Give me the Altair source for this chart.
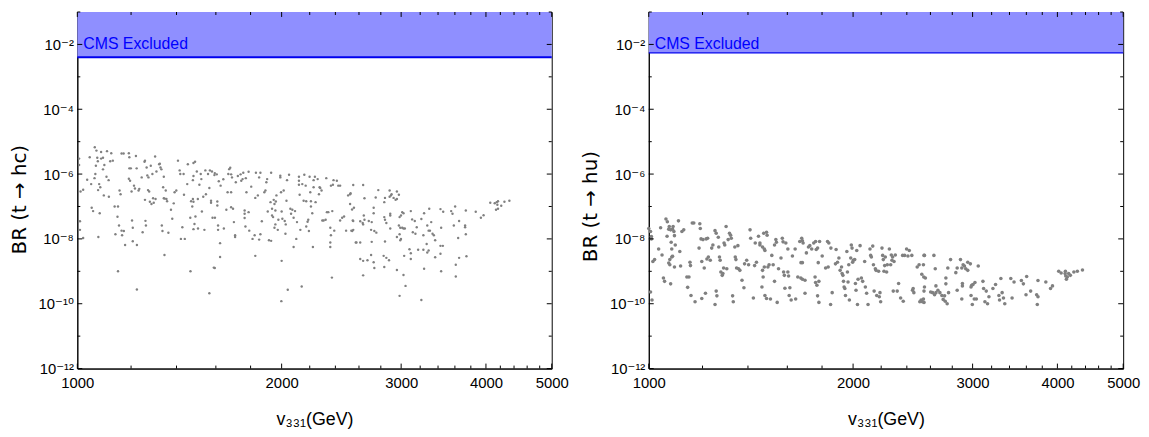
import altair as alt
import pandas as pd

# ---------------- data ----------------
# (v331 [GeV], BR(t -> hc))
HC_POINTS_1 = [
    (1006,3.0e-6),(1006,1.9e-6),(1011,2.9e-7),(1020,3.3e-7),(1009,3.5e-8),(1009,1.9e-8),(1020,1.07e-8),(1034,6.7e-7),
    (1043,3.3e-6),(1048,4.9e-7),(1050,9.1e-8),(1055,7.2e-8),(1061,6.7e-6),(1065,1.8e-6),(1067,5.3e-6),(1060,7.5e-7),
    (1063,1.0e-6),(1070,3.2e-6),(1072,2.5e-6),(1074,1.15e-8),(1073,3.2e-7),(1077,4.9e-7),(1079,6.2e-8),(1081,3.9e-7),
    (1084,4.8e-6),(1084,3.0e-6),(1091,3.2e-6),(1091,1.4e-6),(1094,2.2e-7),(1096,1.9e-6),(1106,5.1e-6),(1104,8.3e-7),
    (1112,6.5e-7),(1113,2.0e-7),(1118,2.5e-6),(1122,4.4e-6),(1128,2.6e-6),(1135,1.0e-7),(1138,1.4e-8),(1146,4.8e-8),
    (1148,1.0e-7),(1148,1.0e-9),(1152,2.6e-8),(1154,3.1e-7),(1158,2.4e-7),(1162,1.8e-8),(1164,1.3e-8),(1162,4.3e-6),
    (1170,4.3e-6),(1171,1.75e-8),(1176,6.5e-9),(1191,4.4e-6),(1193,3.3e-6),(1193,1.5e-6),(1199,1.5e-6),(1191,7.2e-7),
    (1196,6.2e-7),(1202,2.9e-7),(1204,3.7e-8),(1207,2.2e-8),(1207,8.5e-9),(1212,4.4e-7),(1216,3.6e-7),(1220,3.6e-6),
    (1223,1.5e-6),(1224,6.5e-9),(1224,2.75e-10),(1231,3.1e-7),(1234,3.5e-7),(1244,7.9e-7),(1248,1.6e-8),(1256,2.4e-6),
    (1258,2.6e-6),(1258,1.6e-7),(1260,3.6e-8),(1262,2.6e-8),(1265,1.6e-6),(1268,9.1e-7),(1271,3.2e-7),(1273,7.9e-7),
    (1276,2.9e-7),(1279,1.4e-7),(1283,1.8e-6),(1286,1.2e-7),(1290,1.0e-6),(1293,1.8e-7),(1296,1.3e-7),(1302,3.5e-6),
    (1304,1.7e-7),(1308,1.2e-6),(1320,2.0e-6),(1323,2.1e-6),(1326,1.6e-6),(1330,1.4e-6),(1332,2.6e-8),(1335,1.75e-8),
    (1338,3.9e-7),(1341,8.3e-7),(1341,1.8e-7),(1345,1.75e-7),(1344,3.2e-9),(1350,3.1e-7),(1353,1.7e-7),(1356,1.45e-7),
    (1362,1.55e-8),(1374,7.9e-8),(1380,4.2e-8),(1387,1.25e-7),(1391,2.75e-7),(1399,3.1e-7),(1407,2.6e-6),(1415,1.3e-6),
    (1418,1.0e-6),(1421,1.0e-8),(1428,2.3e-8),(1434,1.0e-6),(1436,2.3e-7),(1440,1.0e-8),(1452,4.9e-7),(1455,2.0e-6),
    (1467,4.5e-8),(1468,1.0e-9),(1471,1.45e-7),(1477,1.0e-7),(1480,6.5e-7),(1483,2.2e-6),(1491,2.4e-6),(1483,2.0e-8),
    (1488,2.9e-8),(1483,8.7e-7),(1483,1.4e-7),(1480,1.7e-7),(1493,4.9e-8),(1500,1.2e-6),(1506,2.1e-8),(1505,1.7e-7),
    (1513,4.7e-7),(1520,1.0e-6),(1523,7.0e-7),(1526,7.0e-8),(1539,1.9e-8),(1544,1.3e-6),(1533,2.0e-7),(1547,2.4e-7),
    (1558,1.0e-6),(1565,3.7e-7),(1568,1.3e-6),(1574,1.5e-7),(1574,1.3e-7),(1565,2.1e-10),(1579,1.2e-6),(1582,4.5e-8),
    (1589,1.3e-9),(1592,9.3e-7),
]
HC_POINTS_2 = [
    (1594,1.07e-6),(1605,9.8e-7),(1616,6.0e-7),(1626,4.4e-7),(1608,1.42e-7),(1608,1.07e-7),(1595,4.5e-8),(1612,2.6e-8),
    (1612,1.9e-8),(1623,7.4e-9),(1623,2.75e-9),(1594,1.26e-9),(1641,6.9e-7),(1644,2.1e-8),(1658,7.9e-8),(1665,2.75e-7),
    (1685,2.75e-7),(1669,1.0e-6),(1674,1.42e-6),(1680,1.56e-6),(1685,9.8e-7),(1690,7.9e-7),(1685,9.5e-8),(1696,8.5e-8),
    (1701,3.3e-8),(1708,1.3e-8),(1708,1.15e-8),(1712,5.6e-7),(1724,8.7e-7),(1740,9.8e-7),(1744,6.2e-7),(1752,7.0e-7),
    (1756,1.1e-6),(1764,7.5e-8),(1771,7.5e-7),(1764,4.4e-8),(1764,6.0e-8),(1769,2.4e-8),(1775,2.75e-7),(1788,1.18e-6),
    (1788,6.7e-8),(1792,1.8e-8),(1804,4.1e-7),(1812,1.0e-8),(1825,1.3e-8),(1829,3.0e-9),(1829,1.84e-7),(1833,1.1e-6),
    (1845,2.2e-7),(1853,7.9e-7),(1861,1.1e-6),(1861,1.4e-8),(1853,9.5e-9),(1870,3.5e-8),(1886,2.75e-7),(1893,3.1e-7),
    (1899,5.6e-7),(1904,7.0e-7),(1908,7.0e-8),(1916,9.1e-9),(1930,8.7e-9),(1930,1.1e-6),(1926,1.36e-7),(1936,8.5e-8),
    (1936,5.3e-8),(1943,4.7e-8),(1947,1.6e-7),(1952,1.2e-7),(1958,7.5e-8),(1961,1.42e-7),(1958,2.8e-8),(1952,2.2e-8),
    (1965,2.2e-7),(1974,1.9e-8),(1978,3.9e-8),(1991,8.9e-7),(1991,7.9e-7),(1996,2.75e-7),(2000,7.0e-8),(2000,2.1e-9),
    (1998,1.2e-10),(2005,4.2e-8),(2014,3.1e-7),(2021,3.55e-8),(2028,2.8e-8),(2026,1.45e-8),(2033,1.5e-7),(2037,6.5e-7),
    (2042,2.7e-10),(2051,9.5e-7),(2060,8.5e-8),(2065,6.0e-8),(2074,7.9e-8),(2083,4.5e-8),(2083,5.6e-9),(2093,7.2e-8),
    (2102,1.0e-8),(2107,3.3e-8),(2121,8.3e-7),(2121,6.2e-7),(2121,4.7e-7),(2126,2.3e-7),(2131,1.9e-8),(2141,3.4e-10),
    (2145,4.9e-7),(2155,1.5e-7),(2160,9.5e-7),(2170,4.4e-7),(2174,1.45e-7),(2174,2.4e-8),(2184,3.4e-8),(2189,3.9e-8),
    (2194,1.75e-8),(2199,8.3e-7),(2204,2.75e-7),(2209,1.45e-7),(2209,1.0e-7),(2219,6.2e-8),(2224,5.6e-9),(2229,6.5e-7),
    (2229,3.9e-7),(2239,8.3e-7),(2244,1.36e-7),(2260,7.0e-7),(2270,2.4e-7),(2275,3.9e-7),(2280,3.7e-7),(2290,3.1e-7),
    (2296,3.7e-8),(2306,3.7e-8),(2322,3.9e-8),(2327,7.5e-7),(2332,6.7e-8),(2343,6.7e-8),(2359,2.2e-8),(2364,4.4e-7),
    (2364,1.3e-8),(2359,7.7e-9),(2359,5.6e-9),(2375,7.2e-8),(2372,6.4e-10),(2380,4.7e-7),(2385,6.5e-7),(2391,1.8e-8),
    (2412,6.2e-7),(2424,4.4e-7),(2439,4.4e-7),(2439,3.7e-8),(2456,4.5e-8),(2472,4.9e-8),(2489,1.8e-8),(2506,2.2e-7),
    (2523,2.4e-7),(2523,1.2e-7),(2534,1.8e-8),(2540,8.1e-8),(2546,3.7e-8),
]
HC_POINTS_3 = [
    (2550,4.6e-7),(2637,4.6e-7),(2527,2.56e-7),(2649,1.8e-7),(2556,9.1e-8),(2550,3.55e-8),(2541,1.75e-8),(2550,1.9e-8),
    (2578,7.7e-9),(2611,7.7e-9),(2611,3.5e-8),(2633,3.1e-8),(2637,2.8e-8),(2649,3.9e-8),(2643,5.3e-8),(2688,3.55e-8),
    (2709,1.9e-8),(2715,3.3e-8),(2733,6.2e-8),(2739,1.75e-8),(2758,1.56e-8),(2733,9.1e-8),(2752,1.9e-7),(2776,3.2e-7),
    (2833,1.36e-7),(2840,1.84e-7),(2833,4.7e-8),(2840,3.9e-8),(2853,3.1e-8),(2885,3.1e-7),(2885,2.0e-7),(2898,2.2e-7),
    (2904,2.4e-7),(2924,1.84e-7),(2944,1.6e-7),(2957,1.7e-7),(2957,2.9e-7),(2977,2.3e-7),(2984,4.7e-8),(2998,5.3e-8),
    (3011,6.7e-8),(3024,6.2e-8),(2891,6.0e-8),(2891,5.3e-8),(2891,2.1e-8),(2977,2.6e-8),(2991,2.2e-8),(3011,2.2e-8),
    (3024,2.1e-8),(3038,2.1e-8),(2957,1.15e-8),(2984,1.4e-8),(2998,1.0e-8),(2991,9.1e-9),(3100,7.2e-8),(3114,4.0e-8),
    (3142,3.55e-8),(3163,2.3e-8),(3121,1.6e-8),(3149,1.45e-8),(3213,4.1e-8),(3243,6.2e-8),(3300,8.5e-8),(3278,2.6e-8),
    (3293,1.8e-8),(3322,3.3e-8),(3308,1.8e-8),(3337,1.45e-8),(3352,1.3e-8),(3367,9.1e-9),(3235,1.3e-8),(3271,7.0e-9),
    (3235,4.6e-9),(3178,4.6e-9),(3100,3.6e-9),(3100,2.4e-9),(3031,3.0e-9),(3086,4.8e-9),(3293,4.4e-9),(3278,3.8e-9),
    (3428,8.3e-8),(3460,6.9e-8),(3436,2.2e-8),(3428,6.1e-9),(3456,6.1e-9),(3367,2.7e-9),(3428,3.5e-9),(3243,1.2e-9),
    (3436,1.0e-9),(3555,7.2e-8),(3571,6.0e-8),(3603,1.0e-7),(3587,2.6e-8),(3640,1.07e-8),(3652,3.55e-8),(3736,7.5e-8),
    (3727,2.3e-8),(3736,1.4e-8),(3727,2.6e-8),(3744,2.9e-9),(3652,2.6e-9),(3611,1.6e-9),(3611,6.9e-10),(3864,6.9e-8),
    (3932,4.5e-8),(3968,5.4e-8),(4059,1.3e-7),(4121,1.26e-7),(4148,1.36e-7),(4167,1.45e-7),(4158,1.13e-7),(4139,7.9e-8),
    (4167,8.5e-8),(4213,1.05e-7),(4259,1.4e-7),(4331,1.5e-7),(2572,7.7e-9),(2637,7.5e-10),(2611,2.4e-9),(2637,2.1e-9),
    (2676,2.2e-9),(2709,3.2e-9),(2733,1.9e-9),(2739,1.26e-9),(2827,3.0e-9),(2833,1.36e-9),(2853,2.6e-9),(2879,2.2e-9),
    (2957,1.1e-9),(3024,7.7e-10),(3045,3.55e-10),(2984,1.75e-10),(3213,1.3e-10),(2840,8.3e-9),(2715,8.1e-9),
]

# (v331 [GeV], BR(t -> hu))
HU_POINTS_1 = [
    (1000,2.1e-8),(1006,1.7e-8),(1009,1.18e-8),(1009,1.0e-8),(1006,2.3e-10),(1011,1.3e-10),(1014,2.0e-9),(1020,2.3e-9),
    (1034,4.9e-9),(1041,2.2e-8),(1046,3.2e-9),(1051,6.2e-10),(1055,4.9e-10),(1060,4.1e-8),(1065,3.4e-8),(1070,2.0e-8),
    (1064,1.2e-8),(1072,2.4e-8),(1077,1.9e-8),(1079,7.9e-9),(1081,4.9e-9),(1084,2.0e-8),(1086,2.4e-8),(1089,1.7e-8),
    (1091,1.26e-8),(1081,2.75e-9),(1074,2.3e-9),(1070,1.8e-9),(1074,1.6e-9),(1077,4.1e-10),(1084,2.9e-9),(1091,1.36e-9),
    (1094,6.5e-9),(1106,3.6e-8),(1111,4.1e-9),(1114,1.45e-9),(1119,1.7e-8),(1126,1.9e-8),(1138,6.7e-10),(1146,6.7e-10),
    (1141,3.2e-10),(1150,1.9e-9),(1152,1.5e-9),(1154,1.8e-10),(1159,3.1e-8),(1165,3.1e-8),(1170,1.15e-10),(1186,5.2e-9),
    (1189,2.95e-8),(1191,2.1e-8),(1194,1.0e-8),(1197,2.0e-9),(1197,1.45e-10),(1202,9.5e-9),(1207,1.26e-9),(1212,2.1e-10),
    (1218,2.4e-9),(1215,1.0e-8),(1221,1.05e-8),(1224,2.75e-9),(1232,2.2e-9),(1238,5.2e-9),(1243,6.5e-9),(1252,1.8e-8),
    (1257,1.5e-8),(1257,2.45e-10),(1260,1.75e-10),(1252,9.5e-11),(1266,1.12e-8),(1268,5.6e-9),(1271,2.75e-9),(1274,2.2e-9),
    (1277,9.5e-10),(1283,7.5e-10),(1286,8.5e-10),(1289,1.26e-9),(1291,7.5e-9),(1294,6.5e-9),(1300,2.4e-8),(1303,1.2e-9),
    (1309,9.5e-9),(1315,1.5e-8),(1320,1.3e-8),(1323,1.05e-8),(1329,1.75e-10),(1332,1.15e-10),(1339,5.6e-9),(1341,2.75e-9),
    (1344,2.3e-9),(1347,1.26e-9),(1353,6.2e-9),(1356,1.2e-9),(1362,1.07e-9),(1372,5.3e-10),(1381,3.1e-10),(1384,1.7e-9),
    (1394,2.2e-9),(1403,1.6e-9),(1410,1.9e-8),(1413,1.05e-8),(1426,1.5e-10),(1432,1.5e-9),(1435,7.5e-9),(1441,1.9e-9),
    (1451,1.2e-8),(1458,7.5e-9),(1458,6.5e-9),(1471,5.6e-9),(1477,1.5e-8),(1480,4.9e-9),(1483,4.4e-9),(1491,1.6e-8),
    (1494,1.3e-8),(1471,1.07e-9),(1474,6.7e-10),(1468,3.3e-10),(1480,1.36e-9),(1483,1.8e-10),(1491,1.45e-10),(1498,1.36e-9),
    (1504,1.6e-9),(1511,1.4e-10),(1518,3.1e-9),(1525,1.6e-9),(1532,4.9e-10),(1532,6.5e-9),(1539,9.5e-9),(1542,7.9e-9),
    (1546,1.1e-10),(1553,1.2e-9),(1566,2.56e-9),(1573,1.05e-8),(1577,8.1e-9),(1580,9.5e-10),(1584,7.5e-10),(1587,3.0e-10),
]
HU_POINTS_2 = [
    (1592,7.5e-9),(1603,4.9e-9),(1628,2.95e-9),(1603,9.5e-10),(1607,7.2e-10),(1614,3.1e-10),(1610,1.8e-10),(1621,1.3e-10),
    (1643,4.9e-9),(1646,1.4e-10),(1669,8.3e-9),(1680,1.05e-8),(1684,8.7e-9),(1688,7.5e-9),(1676,1.85e-9),(1684,1.85e-9),
    (1658,6.7e-10),(1675,6.2e-10),(1684,5.7e-10),(1699,5.3e-10),(1699,2.1e-10),(1707,3.7e-9),(1719,5.6e-9),(1727,6.2e-9),
    (1738,4.9e-9),(1750,7.5e-9),(1765,4.7e-9),(1761,8.3e-9),(1773,5.2e-9),(1785,8.3e-9),(1777,1.85e-9),(1758,6.7e-10),
    (1761,4.5e-10),(1769,3.7e-10),(1781,4.9e-10),(1773,1.75e-10),(1781,1.1e-10),(1801,2.95e-9),(1822,1.26e-9),(1838,1.36e-9),
    (1834,8.3e-9),(1842,7.5e-9),(1855,5.2e-9),(1853,9.5e-11),(1863,2.2e-10),(1884,1.7e-9),(1897,1.9e-9),(1888,4.7e-9),
    (1906,2.56e-9),(1914,1.07e-9),(1923,1.36e-9),(1927,8.5e-10),(1932,7.5e-10),(1936,4.9e-10),(1940,3.3e-10),(1945,2.95e-10),
    (1949,1.8e-10),(1958,4.1e-9),(1962,9.5e-10),(1966,4.7e-10),(1971,1.6e-9),(1975,1.3e-10),(1984,2.56e-9),(1988,6.5e-9),
    (1993,5.2e-9),(1997,1.9e-9),(2002,2.2e-9),(2011,2.3e-9),(2016,4.2e-10),(2020,2.6e-10),(2025,4.4e-9),(2030,9.5e-11),
    (2034,5.7e-10),(2048,6.2e-9),(2057,6.2e-10),(2066,4.9e-10),(2080,2.0e-9),(2085,3.3e-10),(2094,2.1e-10),(2104,9.5e-11),
    (2118,4.9e-9),(2123,3.1e-9),(2128,2.75e-9),(2138,6.0e-9),(2143,1.6e-9),(2148,2.45e-10),(2157,1.2e-9),(2162,1.07e-9),
    (2167,1.8e-10),(2181,1.0e-9),(2186,1.64e-10),(2191,2.2e-10),(2196,1.15e-10),(2206,5.2e-9),(2211,3.1e-9),(2216,2.3e-9),
    (2221,1.0e-9),(2226,1.5e-9),(2231,2.75e-9),(2241,9.5e-10),(2246,1.6e-9),(2262,4.9e-9),(2272,1.6e-9),(2277,3.2e-9),
    (2282,2.2e-9),(2287,2.75e-9),(2292,2.45e-10),(2298,2.0e-9),(2308,3.2e-9),(2323,2.45e-10),(2334,4.2e-10),(2350,1.5e-10),
    (2366,3.1e-9),(2371,1.2e-10),(2382,3.1e-9),(2398,4.9e-9),(2409,2.95e-9),(2420,4.4e-9),(2441,3.1e-9),(2447,2.6e-10),
    (2452,2.95e-10),(2458,2.2e-10),(2486,1.36e-9),(2502,1.6e-9),(2508,1.15e-10),(2519,1.3e-10),(2525,8.1e-10),(2530,1.15e-10),
    (2542,6.7e-10),(2548,3.3e-10),(2548,3.1e-9),
]
HU_POINTS_3 = [
    (2544,3.1e-9),(2631,3.1e-9),(2539,1.6e-9),(2556,6.2e-10),(2643,1.2e-9),(2544,2.45e-10),(2539,1.4e-10),(2544,1.1e-10),
    (2602,2.3e-10),(2619,2.2e-10),(2637,1.9e-10),(2649,2.2e-10),(2649,3.55e-10),(2667,2.6e-10),(2685,2.2e-10),(2703,1.8e-10),
    (2715,1.36e-10),(2734,1.2e-10),(2752,1.0e-10),(2728,1.75e-10),(2740,4.1e-10),(2740,6.2e-10),(2765,2.2e-10),(2758,1.26e-9),
    (2784,2.3e-9),(2834,9.1e-10),(2847,1.26e-9),(2847,2.6e-10),(2879,2.3e-9),(2892,1.26e-9),(2898,4.2e-10),(2898,3.55e-10),
    (2892,1.4e-10),(2905,1.6e-9),(2918,1.45e-9),(2931,1.2e-9),(2951,1.9e-9),(2951,1.07e-9),(2977,1.7e-9),(2984,3.3e-10),
    (2991,3.7e-10),(3004,3.9e-10),(3024,4.5e-10),(2984,1.8e-10),(2997,9.5e-11),(3017,1.4e-10),(3038,1.4e-10),(3058,1.45e-9),
    (3107,4.9e-10),(3114,2.95e-10),(3128,1.15e-10),(3142,2.45e-10),(3156,1.0e-10),(3171,1.64e-10),(3214,2.95e-10),(3243,3.9e-10),
    (3280,1.8e-10),(3287,1.3e-10),(3302,6.0e-10),(3316,2.2e-10),(3331,1.5e-10),(3346,1.0e-10),(3415,6.0e-10),(3430,1.5e-10),
    (3453,4.7e-10),(3540,5.2e-10),(3564,4.1e-10),(3604,6.9e-10),(3596,1.9e-10),(3653,2.45e-10),(3728,1.9e-10),(3745,1.64e-10),
    (3736,9.5e-11),(3745,5.2e-10),(3846,4.7e-10),(3908,2.95e-10),(3934,3.55e-10),(4051,8.9e-10),(4106,8.5e-10),(4124,5.7e-10),
    (4115,7.2e-10),(4018,1.0e-9),(4110,1.0e-9),(4156,8.5e-10),(4230,9.5e-10),(4280,1.0e-9),(4355,1.1e-9),(4137,6.7e-10),
    (4180,7.5e-10),
]

CMS_LIMIT_HC = 4.0e-3
CMS_LIMIT_HU = 5.5e-3
CMS_LABEL = "CMS Excluded"
CMS_LABEL_AT = 1.0e-2

X_DOMAIN = [1000, 5000]
Y_DOMAIN = [1e-12, 1e-1]
X_LABELS = [1000, 2000, 3000, 4000, 5000]
X_MINOR = [1200, 1400, 1600, 1800, 2200, 2400, 2600, 2800, 3200, 3400, 3600, 3800,
           4200, 4400, 4600, 4800]
Y_LABELS = [1e-12, 1e-10, 1e-8, 1e-6, 1e-4, 1e-2]
Y_MINOR = [1e-11, 1e-9, 1e-7, 1e-5, 1e-3, 1e-1]

X_TITLE = "v\u2083\u2083\u2081(GeV)"
Y_TITLE_HC = "BR (t \u2192 hc)"
Y_TITLE_HU = "BR (t \u2192 hu)"

# ---------------- styling ----------------
W, H = 479, 360
BAND = "#8f8fff"
EDGE = "#0000ee"
GREY = "#808080"
SANS = "Liberation Sans, DejaVu Sans"
DEJAVU = "DejaVu Sans"

Y_LABEL_EXPR = (
    "datum.value < 1e-11 ? '10\u207b\u00b9\u00b2' : "
    "datum.value < 1e-9 ? '10\u207b\u00b9\u2070' : "
    "datum.value < 1e-7 ? '10\u207b\u2078' : "
    "datum.value < 1e-5 ? '10\u207b\u2076' : "
    "datum.value < 1e-3 ? '10\u207b\u2074' : '10\u207b\u00b2'"
)


def panel(points, limit, ytitle, pt_size, edge_w, title_y):
    xs = alt.Scale(type="log", domain=X_DOMAIN, nice=False)
    ys = alt.Scale(type="log", domain=Y_DOMAIN, nice=False)
    x_axis = alt.Axis(
        values=X_LABELS, format="d", title=X_TITLE, ticks=False, tickSize=0,
        grid=False, labelFont=SANS, labelFontSize=15, labelPadding=7,
        labelColor="black", titleFont=SANS, titleFontSize=18,
        titleFontWeight="normal", titleColor="black", titlePadding=20,
        domainColor="black", labelFlush=False)
    y_axis = alt.Axis(
        values=Y_LABELS, labelExpr=Y_LABEL_EXPR, title=ytitle, ticks=False,
        tickSize=0, grid=False, labelFont=SANS, labelFontSize=15,
        labelPadding=4, labelColor="black", titleFont=DEJAVU, titleFontSize=20,
        titleFontWeight="normal", titleColor="black", titlePadding=9,
        titleY=title_y, domainColor="black", labelFlush=False)

    def X(f):
        return alt.X(f, scale=xs, axis=x_axis, title=X_TITLE)

    def Y(f):
        return alt.Y(f, scale=ys, axis=y_axis, title=ytitle)

    pts = pd.DataFrame(points, columns=["v", "br"])
    band_df = pd.DataFrame({"lo": [limit], "hi": [Y_DOMAIN[1]]})

    scatter = alt.Chart(pts).mark_circle(size=pt_size, color=GREY, opacity=1).encode(
        x=X("v:Q"), y=Y("br:Q"))
    band = alt.Chart(band_df).mark_rect(color=BAND, opacity=1).encode(
        x=alt.value(0), x2=alt.value(W), y=Y("lo:Q"), y2="hi:Q")
    edge = alt.Chart(band_df).mark_rule(color=EDGE, strokeWidth=edge_w).encode(
        x=alt.value(0), x2=alt.value(W), y=Y("lo:Q"))
    label = alt.Chart(pd.DataFrame({"y": [CMS_LABEL_AT]})).mark_text(
        text=CMS_LABEL, align="left", baseline="middle", color="#0000ff",
        font=SANS, fontSize=16).encode(x=alt.value(6), y=Y("y:Q"))

    def xt(vals, length):
        df = pd.DataFrame({"t": vals})
        b = alt.Chart(df).mark_rule(color="black", strokeWidth=1)
        return [
            b.encode(x=X("t:Q"), y=alt.value(H), y2=alt.value(H - length)),
            b.encode(x=X("t:Q"), y=alt.value(0), y2=alt.value(length)),
        ]

    def yt(vals, length):
        df = pd.DataFrame({"t": vals})
        b = alt.Chart(df).mark_rule(color="black", strokeWidth=1)
        return [
            b.encode(y=Y("t:Q"), x=alt.value(0), x2=alt.value(length)),
            b.encode(y=Y("t:Q"), x=alt.value(W), x2=alt.value(W - length)),
        ]

    layers = [band, edge, scatter]
    layers += xt(X_LABELS, 5) + xt(X_MINOR, 3) + yt(Y_LABELS, 5) + yt(Y_MINOR, 3)
    layers.append(label)
    return alt.layer(*layers).properties(width=W, height=H)


left = panel(HC_POINTS_1 + HC_POINTS_2 + HC_POINTS_3, CMS_LIMIT_HC, Y_TITLE_HC, 6, 2, 189)
right = panel(HU_POINTS_1 + HU_POINTS_2 + HU_POINTS_3, CMS_LIMIT_HU, Y_TITLE_HU, 13, 1.2, 196)

chart = alt.hconcat(left, right, spacing=10).properties(
    padding={"left": 0, "top": 1, "right": 0, "bottom": 0},
    background="white",
).configure_view(stroke="black", strokeWidth=1)

chart.save("out.html", embed_options={"renderer": "svg", "actions": False})
